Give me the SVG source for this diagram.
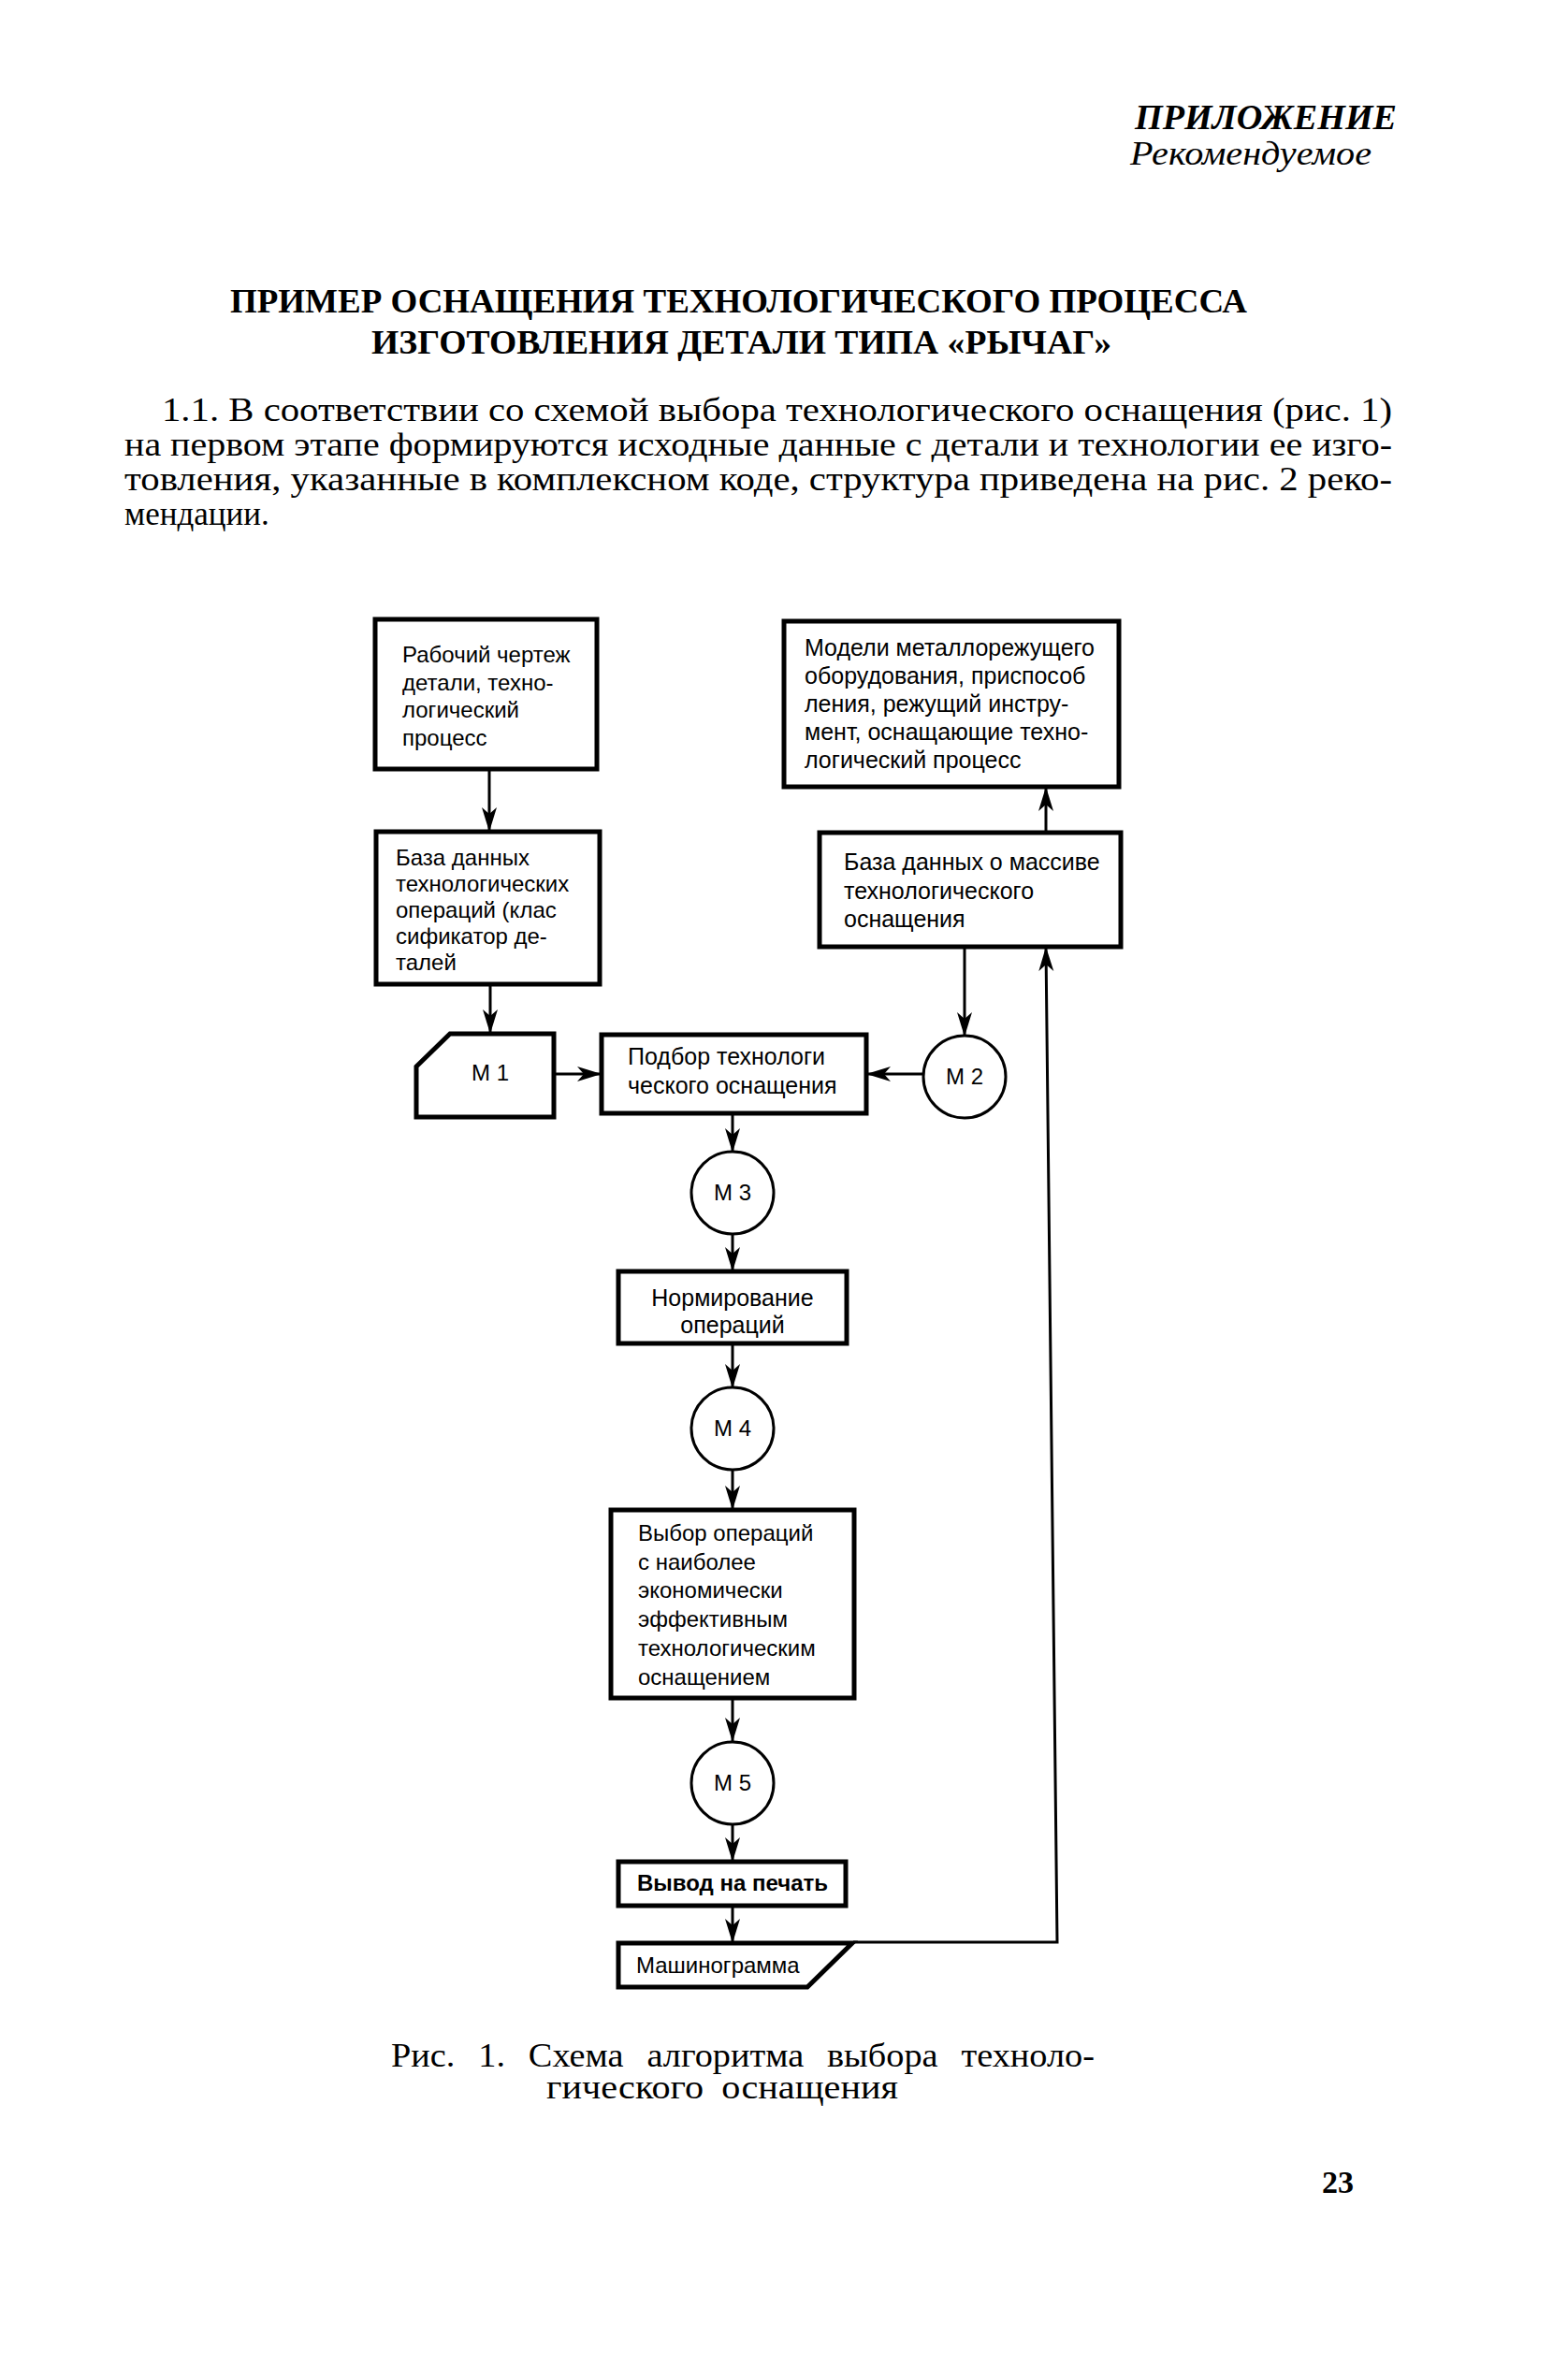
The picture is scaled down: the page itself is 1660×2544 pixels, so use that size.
<svg xmlns="http://www.w3.org/2000/svg" width="1660" height="2544" viewBox="0 0 1660 2544">
<style>
.bg{fill:#fff}
.box{fill:#fff;stroke:#000;stroke-width:5}
.circ{fill:#fff;stroke:#000;stroke-width:3}
.conn{fill:none;stroke:#000;stroke-width:3;marker-end:url(#ah)}
.t{font-family:"Liberation Sans","DejaVu Sans",sans-serif;font-size:24px;fill:#000}
.tl{font-size:25px}
.tc{text-anchor:middle}
.serif{font-family:"Liberation Serif","DejaVu Serif",serif;fill:#000}
</style>
<defs>
<marker id="ah" markerUnits="userSpaceOnUse" markerWidth="26" markerHeight="18" refX="25" refY="9" orient="auto">
<path d="M0,1 L26,9 L0,17 L7,9 z" fill="#000"/>
</marker>
</defs>
<rect class="bg" x="0" y="0" width="1660" height="2544"/>

<g id="header">
<text class="serif" x="1493" y="138" font-size="37" font-weight="bold" font-style="italic" text-anchor="end" textLength="280" lengthAdjust="spacingAndGlyphs">ПРИЛОЖЕНИЕ</text>
<text class="serif" x="1208" y="176" font-size="35" font-style="italic" textLength="258" lengthAdjust="spacingAndGlyphs">Рекомендуемое</text>
</g>

<g id="title">
<text class="serif" x="246" y="334" font-size="35" font-weight="bold" textLength="1087" lengthAdjust="spacingAndGlyphs">ПРИМЕР ОСНАЩЕНИЯ ТЕХНОЛОГИЧЕСКОГО ПРОЦЕССА</text>
<text class="serif" x="397" y="378" font-size="35" font-weight="bold" textLength="791" lengthAdjust="spacingAndGlyphs">ИЗГОТОВЛЕНИЯ ДЕТАЛИ ТИПА «РЫЧАГ»</text>
</g>

<g id="paragraph">
<text class="serif" x="173" y="450" font-size="35" textLength="1315" lengthAdjust="spacingAndGlyphs">1.1. В соответствии со схемой выбора технологического оснащения (рис. 1)</text>
<text class="serif" x="133" y="487" font-size="35" textLength="1355" lengthAdjust="spacingAndGlyphs">на первом этапе формируются исходные данные с детали и технологии ее изго-</text>
<text class="serif" x="133" y="524" font-size="35" textLength="1355" lengthAdjust="spacingAndGlyphs">товления, указанные в комплексном коде, структура приведена на рис. 2 реко-</text>
<text class="serif" x="133" y="561" font-size="35">мендации.</text>
</g>

<g id="connectors">
<line class="conn" x1="523" y1="823" x2="523" y2="888"/>
<line class="conn" x1="524" y1="1053" x2="524" y2="1104"/>
<line class="conn" x1="593" y1="1148" x2="642" y2="1148"/>
<line class="conn" x1="1031" y1="1013" x2="1031" y2="1107"/>
<line class="conn" x1="987" y1="1148" x2="927" y2="1148"/>
<line class="conn" x1="783" y1="1191" x2="783" y2="1231"/>
<line class="conn" x1="783" y1="1319" x2="783" y2="1358"/>
<line class="conn" x1="783" y1="1437" x2="783" y2="1483"/>
<line class="conn" x1="783" y1="1571" x2="783" y2="1613"/>
<line class="conn" x1="783" y1="1816" x2="783" y2="1861"/>
<line class="conn" x1="783" y1="1950" x2="783" y2="1989"/>
<line class="conn" x1="783" y1="2038" x2="783" y2="2076"/>
<line class="conn" x1="1118" y1="889" x2="1118" y2="842"/>
<polyline class="conn" points="912,2076 1130,2076 1118,1013"/>
</g>

<g id="box1">
<rect class="box" x="401" y="662" width="237" height="160"/>
<text class="t" x="430" y="708">Рабочий чертеж</text>
<text class="t" x="430" y="738">детали, техно-</text>
<text class="t" x="430" y="767">логический</text>
<text class="t" x="430" y="797">процесс</text>
</g>

<g id="box2">
<rect class="box" x="402" y="889" width="239" height="163"/>
<text class="t" x="423" y="925">База данных</text>
<text class="t" x="423" y="953">технологических</text>
<text class="t" x="423" y="981">операций (клас</text>
<text class="t" x="423" y="1009">сификатор де-</text>
<text class="t" x="423" y="1037">талей</text>
</g>

<g id="box3">
<rect class="box" x="838" y="664" width="358" height="177"/>
<text class="t tl" x="860" y="701">Модели металлорежущего</text>
<text class="t tl" x="860" y="731">оборудования, приспособ</text>
<text class="t tl" x="860" y="761">ления, режущий инстру-</text>
<text class="t tl" x="860" y="791">мент, оснащающие техно-</text>
<text class="t tl" x="860" y="821">логический процесс</text>
</g>

<g id="box4">
<rect class="box" x="876" y="890" width="322" height="122"/>
<text class="t tl" x="902" y="930">База данных о массиве</text>
<text class="t tl" x="902" y="961">технологического</text>
<text class="t tl" x="902" y="991">оснащения</text>
</g>

<g id="m1">
<path class="box" d="M481,1105 L592,1105 L592,1194 L445,1194 L445,1140 Z"/>
<text class="t tc" x="524" y="1155">М 1</text>
</g>

<g id="podbor">
<rect class="box" x="643" y="1106" width="283" height="84"/>
<text class="t tl" x="671" y="1138">Подбор технологи</text>
<text class="t tl" x="671" y="1169">ческого оснащения</text>
</g>

<g id="m2">
<circle class="circ" cx="1031" cy="1151" r="44"/>
<text class="t tc" x="1031" y="1159">М 2</text>
</g>

<g id="m3">
<circle class="circ" cx="783" cy="1275" r="44"/>
<text class="t tc" x="783" y="1283">М 3</text>
</g>

<g id="norm">
<rect class="box" x="661" y="1359" width="244" height="77"/>
<text class="t tc tl" x="783" y="1396">Нормирование</text>
<text class="t tc tl" x="783" y="1425">операций</text>
</g>

<g id="m4">
<circle class="circ" cx="783" cy="1527" r="44"/>
<text class="t tc" x="783" y="1535">М 4</text>
</g>

<g id="vybor">
<rect class="box" x="653" y="1614" width="260" height="201"/>
<text class="t" x="682" y="1647">Выбор операций</text>
<text class="t" x="682" y="1678">с наиболее</text>
<text class="t" x="682" y="1708">экономически</text>
<text class="t" x="682" y="1739">эффективным</text>
<text class="t" x="682" y="1770">технологическим</text>
<text class="t" x="682" y="1801">оснащением</text>
</g>

<g id="m5">
<circle class="circ" cx="783" cy="1906" r="44"/>
<text class="t tc" x="783" y="1914">М 5</text>
</g>

<g id="vyvod">
<rect class="box" x="661" y="1990" width="243" height="47"/>
<text class="t tc" x="783" y="2021" font-size="22" font-weight="bold">Вывод на печать</text>
</g>

<g id="mashinogramma">
<path class="box" d="M661,2077 L911,2077 L863,2124 L661,2124 Z"/>
<text class="t" x="680" y="2109">Машинограмма</text>
</g>

<g id="caption">
<text class="serif" x="418" y="2209" font-size="35" textLength="752" lengthAdjust="spacingAndGlyphs" word-spacing="14">Рис. 1. Схема алгоритма выбора техноло-</text>
<text class="serif" x="584" y="2243" font-size="35" textLength="376" lengthAdjust="spacingAndGlyphs" word-spacing="8">гического оснащения</text>
</g>

<g id="pagenum">
<text class="serif" x="1413" y="2344" font-size="34" font-weight="bold">23</text>
</g>
</svg>
